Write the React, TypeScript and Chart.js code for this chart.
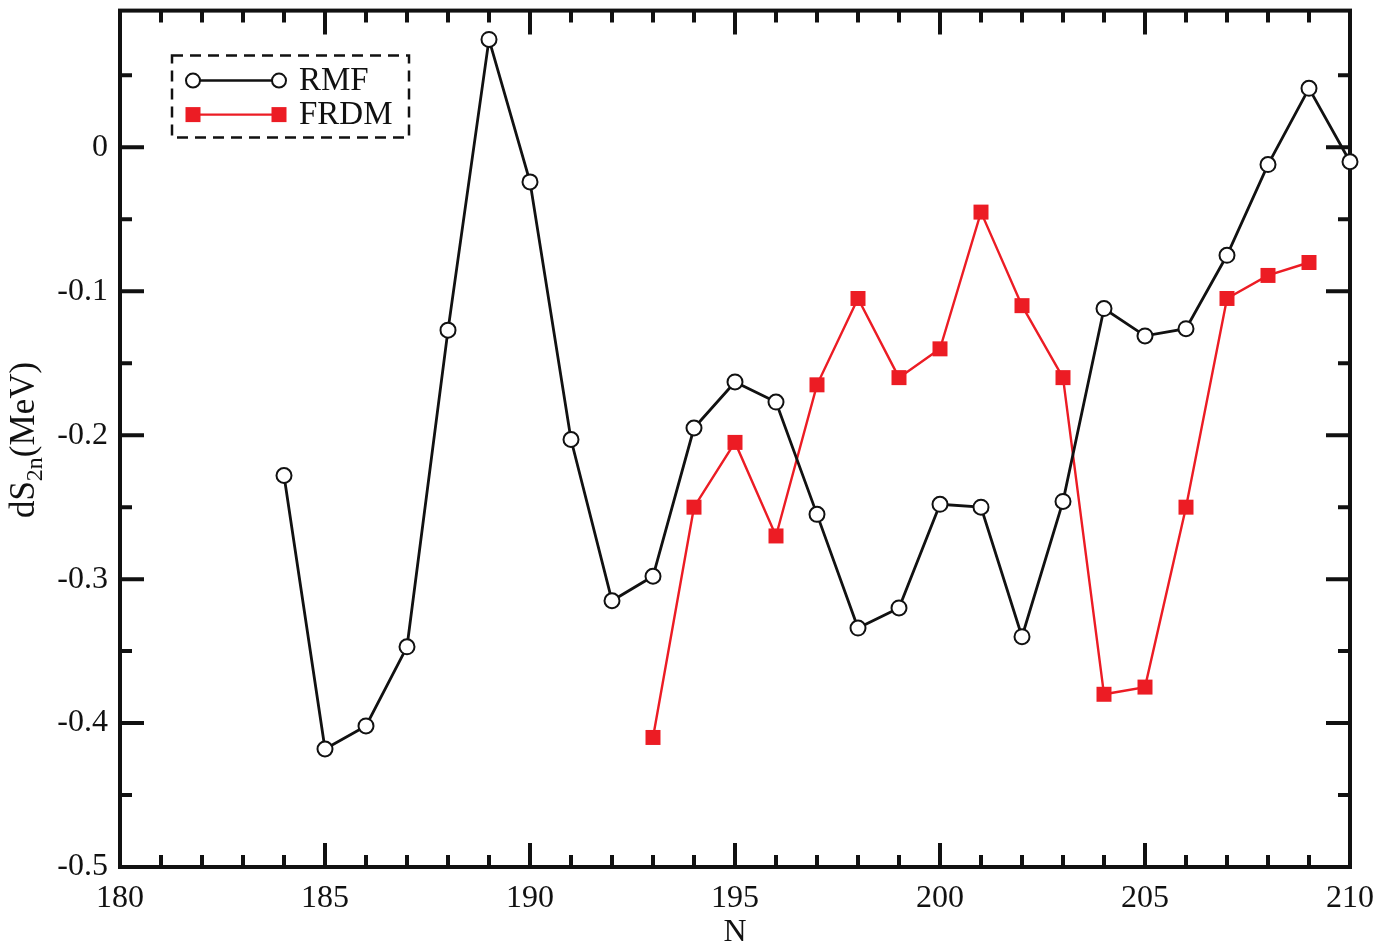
import React, { useEffect, useRef } from 'react';
import { Chart, registerables } from 'chart.js';

Chart.register(...registerables);

const FONT = '"Liberation Serif", "DejaVu Serif", serif';
const RED = '#ec1c24';
const INK = '#111111';

// neutron numbers and two-neutron separation energy differences (MeV)
const rmfN = [184, 185, 186, 187, 188, 189, 190, 191, 192, 193, 194, 195, 196, 197,
  198, 199, 200, 201, 202, 203, 204, 205, 206, 207, 208, 209, 210];
const rmfValues = [-0.228, -0.418, -0.402, -0.347, -0.127, 0.075, -0.024, -0.203, -0.315,
  -0.298, -0.195, -0.163, -0.177, -0.255, -0.334, -0.32, -0.248, -0.25, -0.34, -0.246,
  -0.112, -0.131, -0.126, -0.075, -0.012, 0.041, -0.01];

const frdmN = [193, 194, 195, 196, 197, 198, 199, 200, 201, 202, 203, 204, 205, 206, 207, 208, 209];
const frdmValues = [-0.41, -0.25, -0.205, -0.27, -0.165, -0.105, -0.16, -0.14, -0.045,
  -0.11, -0.16, -0.38, -0.375, -0.25, -0.105, -0.089, -0.08];

const xTicks = [180, 185, 190, 195, 200, 205, 210];
const yTicks = [-0.5, -0.4, -0.3, -0.2, -0.1, 0];
const xMinorStep = 1;
const yMinorStep = 0.05;

const noPad = (s: any) => {
  s.paddingTop = 0;
  s.paddingBottom = 0;
  s.paddingLeft = 0;
  s.paddingRight = 0;
};

// inward ticks on all four sides, plus the box
const framePlugin = {
  id: 'frame',
  beforeDatasetsDraw(chart: any) {
    const { ctx, chartArea: a, scales } = chart;
    const xs = scales.x;
    const ys = scales.y;
    ctx.save();
    ctx.strokeStyle = INK;
    ctx.lineWidth = 4;
    ctx.beginPath();
    for (let v = xs.min; v <= xs.max + 1e-9; v += xMinorStep) {
      const px = xs.getPixelForValue(v);
      const len = xTicks.includes(Math.round(v)) ? 24 : 12;
      ctx.moveTo(px, a.bottom);
      ctx.lineTo(px, a.bottom - len);
      ctx.moveTo(px, a.top);
      ctx.lineTo(px, a.top + len);
    }
    for (let v = -0.5; v <= ys.max + 1e-9; v += yMinorStep) {
      const py = ys.getPixelForValue(v);
      const major = yTicks.some((t) => Math.abs(t - v) < 1e-6);
      const len = major ? 24 : 12;
      ctx.moveTo(a.left, py);
      ctx.lineTo(a.left + len, py);
      ctx.moveTo(a.right, py);
      ctx.lineTo(a.right - len, py);
    }
    ctx.stroke();
    ctx.strokeRect(a.left, a.top, a.right - a.left, a.bottom - a.top);
    ctx.restore();
  },
  afterDraw(chart: any) {
    const { ctx, chartArea: a } = chart;
    ctx.save();
    ctx.fillStyle = INK;

    // x title
    ctx.font = `32px ${FONT}`;
    ctx.textAlign = 'center';
    ctx.textBaseline = 'alphabetic';
    ctx.fillText('N', (a.left + a.right) / 2, 941);

    // y title with subscript
    ctx.translate(34, 440);
    ctx.rotate(-Math.PI / 2);
    ctx.textAlign = 'left';
    ctx.font = `35px ${FONT}`;
    const w1 = ctx.measureText('dS').width;
    const w3 = ctx.measureText('(MeV)').width;
    ctx.font = `24px ${FONT}`;
    const w2 = ctx.measureText('2n').width;
    let x0 = -(w1 + w2 + w3) / 2;
    ctx.font = `35px ${FONT}`;
    ctx.fillText('dS', x0, 0);
    x0 += w1;
    ctx.font = `24px ${FONT}`;
    ctx.fillText('2n', x0, 8);
    x0 += w2;
    ctx.font = `35px ${FONT}`;
    ctx.fillText('(MeV)', x0, 0);
    ctx.restore();

    // legend
    ctx.save();
    const bx = a.left + 52;
    const by = a.top + 45;
    ctx.strokeStyle = INK;
    ctx.lineWidth = 2.5;
    ctx.setLineDash([11, 7]);
    ctx.strokeRect(bx, by, 237, 82);
    ctx.setLineDash([]);
    const l1 = bx + 21;
    const l2 = bx + 107;
    const rows = [
      { label: 'RMF', y: by + 25, color: INK },
      { label: 'FRDM', y: by + 59, color: RED },
    ];
    rows.forEach((r, i) => {
      ctx.strokeStyle = r.color;
      ctx.lineWidth = i === 0 ? 2.5 : 2.2;
      ctx.beginPath();
      ctx.moveTo(l1, r.y);
      ctx.lineTo(l2, r.y);
      ctx.stroke();
      [l1, l2].forEach((px) => {
        if (i === 0) {
          ctx.beginPath();
          ctx.arc(px, r.y, 7, 0, Math.PI * 2);
          ctx.fillStyle = '#ffffff';
          ctx.fill();
          ctx.lineWidth = 2;
          ctx.strokeStyle = INK;
          ctx.stroke();
        } else {
          ctx.fillStyle = RED;
          ctx.fillRect(px - 7.5, r.y - 7.5, 15, 15);
        }
      });
      ctx.fillStyle = INK;
      ctx.font = `33px ${FONT}`;
      ctx.textAlign = 'left';
      ctx.textBaseline = 'middle';
      ctx.fillText(r.label, bx + 127, r.y + 1);
    });
    ctx.restore();
  },
};

const App: React.FC = () => {
  const canvasRef = useRef<HTMLCanvasElement | null>(null);

  useEffect(() => {
    document.body.style.margin = '0';
    if (!canvasRef.current) return;
    const chart = new Chart(canvasRef.current, {
      type: 'line',
      data: {
        datasets: [
          {
            label: 'RMF',
            data: rmfN.map((n, i) => ({ x: n, y: rmfValues[i] })),
            borderColor: INK,
            borderWidth: 2.8,
            pointRadius: 7.5,
            pointBorderWidth: 2,
            pointBackgroundColor: '#ffffff',
            pointBorderColor: INK,
            pointStyle: 'circle',
            tension: 0,
            clip: false,
          },
          {
            label: 'FRDM',
            data: frdmN.map((n, i) => ({ x: n, y: frdmValues[i] })),
            borderColor: RED,
            borderWidth: 2.4,
            pointRadius: 10.6,
            pointBorderWidth: 0,
            pointBackgroundColor: RED,
            pointStyle: 'rect',
            tension: 0,
            clip: false,
          },
        ],
      },
      options: {
        animation: false,
        responsive: true,
        maintainAspectRatio: false,
        layout: { padding: { top: 6, right: 28, left: 0, bottom: 0 } },
        plugins: { legend: { display: false }, tooltip: { enabled: false } },
        scales: {
          x: {
            type: 'linear',
            min: 180,
            max: 210,
            grid: { display: false, drawTicks: false },
            border: { display: false },
            afterBuildTicks: (s: any) => {
              s.ticks = xTicks.map((v) => ({ value: v }));
            },
            afterFit: (s: any) => {
              s.height = 78;
              noPad(s);
            },
            ticks: {
              color: INK,
              padding: 12,
              maxRotation: 0,
              font: { family: FONT, size: 32 },
              callback: (v: any) => String(v),
            },
          },
          y: {
            type: 'linear',
            min: -0.5,
            max: 0.095,
            grid: { display: false, drawTicks: false },
            border: { display: false },
            afterBuildTicks: (s: any) => {
              s.ticks = yTicks.map((v) => ({ value: v }));
            },
            afterFit: (s: any) => {
              s.width = 120;
              noPad(s);
            },
            ticks: {
              color: INK,
              padding: 12,
              font: { family: FONT, size: 32 },
              callback: (v: any) => (Math.abs(v) < 1e-9 ? '0' : Number(v).toFixed(1)),
            },
          },
        },
      },
      plugins: [framePlugin],
    });
    return () => chart.destroy();
  }, []);

  return (
    <div style={{ width: 1378, height: 945, position: 'relative', background: '#fff' }}>
      <canvas ref={canvasRef} />
    </div>
  );
};

export default App;
